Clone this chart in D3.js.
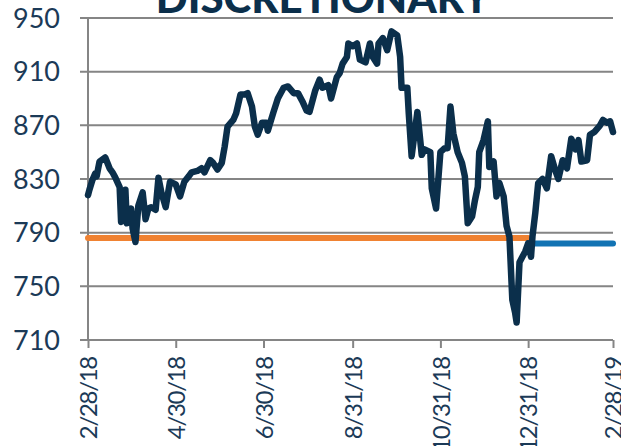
<!DOCTYPE html>
<html>
<head>
<meta charset="utf-8">
<script src="https://cdn.jsdelivr.net/npm/d3@7"></script>
<style>
  body { margin: 0; background: #fff; }
  svg { display: block; }
  text { font-family: Lato, "Noto Sans", sans-serif; fill: #1b3a57; }
</style>
</head>
<body>
<svg width="621" height="446"></svg>
<script>
// Chart data
var title = "DISCRETIONARY";

var dates = [
  "2018-02-28","2018-03-01","2018-03-03","2018-03-05","2018-03-06","2018-03-08","2018-03-12","2018-03-15",
  "2018-03-17","2018-03-19","2018-03-22","2018-03-23","2018-03-26","2018-03-27","2018-03-30","2018-03-31",
  "2018-04-02","2018-04-04","2018-04-07","2018-04-09","2018-04-11","2018-04-13","2018-04-16","2018-04-18",
  "2018-04-20","2018-04-23","2018-04-26","2018-04-30","2018-05-03","2018-05-06","2018-05-09","2018-05-11",
  "2018-05-15","2018-05-18","2018-05-20","2018-05-24","2018-05-26","2018-05-29","2018-06-01","2018-06-03",
  "2018-06-05","2018-06-09","2018-06-11","2018-06-14","2018-06-17","2018-06-19","2018-06-22","2018-06-24",
  "2018-06-26","2018-06-29","2018-07-02","2018-07-03","2018-07-07","2018-07-10","2018-07-14","2018-07-17",
  "2018-07-21","2018-07-24","2018-07-27","2018-07-30","2018-08-01","2018-08-05","2018-08-08","2018-08-10",
  "2018-08-14","2018-08-16","2018-08-20","2018-08-22","2018-08-24","2018-08-27","2018-08-28","2018-08-31",
  "2018-09-03","2018-09-05","2018-09-09","2018-09-12","2018-09-14","2018-09-17","2018-09-18","2018-09-21",
  "2018-09-24","2018-09-27","2018-10-01","2018-10-03","2018-10-04","2018-10-08","2018-10-09","2018-10-11",
  "2018-10-15","2018-10-18","2018-10-20","2018-10-24","2018-10-25","2018-10-28","2018-10-31","2018-11-03",
  "2018-11-05","2018-11-07","2018-11-09","2018-11-12","2018-11-15","2018-11-17","2018-11-19","2018-11-22",
  "2018-11-24","2018-11-26","2018-11-27","2018-11-30","2018-12-03","2018-12-04","2018-12-07","2018-12-09",
  "2018-12-11","2018-12-14","2018-12-16","2018-12-18","2018-12-20","2018-12-22","2018-12-23","2018-12-25",
  "2018-12-29","2018-12-31","2019-01-02","2019-01-03","2019-01-05","2019-01-07","2019-01-10","2019-01-13",
  "2019-01-16","2019-01-19","2019-01-21","2019-01-24","2019-01-27","2019-01-30","2019-02-02","2019-02-04",
  "2019-02-06","2019-02-10","2019-02-12","2019-02-15","2019-02-19","2019-02-21","2019-02-24","2019-02-26",
  "2019-02-28"
];

var prices = [
  818,822,829,834,832,843,846,838,
  835,831,824,798,822,797,808,793,
  783,810,820,800,808,809,807,831,
  820,809,828,826,817,828,832,835,
  836,838,835,844,842,837,842,854,
  869,874,879,893,893,894,884,869,
  863,872,872,866,880,890,898,899,
  894,894,888,881,880,896,904,898,
  900,890,906,909,916,921,931,929,
  931,919,917,931,921,916,931,935,
  926,940,937,921,898,898,879,847,
  880,848,852,850,823,808,850,853,
  853,884,864,850,842,832,797,802,
  814,824,850,859,873,839,843,817,
  827,817,795,787,740,730,723,768,
  776,782,772,787,805,827,830,823,
  847,836,830,844,838,860,852,859,
  843,844,863,865,870,874,872,873,
  865
];

// horizontal reference levels
var orangeLevel = { from: "2018-02-28", to: "2018-12-31", value: 786 };
var blueLevel = { from: "2018-12-31", to: "2019-02-28", value: 782 };

var yTicks = [710, 750, 790, 830, 870, 910, 950];
var xTicks = ["2018-02-28","2018-04-30","2018-06-30","2018-08-31","2018-10-31","2018-12-31","2019-02-28"];
var xTickLabels = ["2/28/18","4/30/18","6/30/18","8/31/18","10/31/18","12/31/18","2/28/19"];

var parse = d3.timeParse("%Y-%m-%d");
var series = dates.map(function(d, i) { return { date: parse(d), value: prices[i] }; });

var svg = d3.select("svg");
var plotLeft = 88, plotRight = 613, plotTop = 18, plotBottom = 340;

var x = d3.scaleTime()
  .domain([parse(xTicks[0]), parse(xTicks[xTicks.length - 1])])
  .range([plotLeft, plotRight]);

var y = d3.scaleLinear()
  .domain([710, 950])
  .range([plotBottom, plotTop]);

// gridlines
svg.append("g")
  .selectAll("line")
  .data(yTicks)
  .enter().append("line")
    .attr("x1", plotLeft - 8)
    .attr("x2", plotRight)
    .attr("y1", function(d) { return y(d); })
    .attr("y2", function(d) { return y(d); })
    .style("stroke", "#858585")
    .style("stroke-width", 2);

// y axis line
svg.append("line")
  .attr("x1", plotLeft).attr("x2", plotLeft)
  .attr("y1", plotTop).attr("y2", plotBottom)
  .style("stroke", "#858585")
  .style("stroke-width", 2);

// y labels
svg.append("g")
  .selectAll("text")
  .data(yTicks)
  .enter().append("text")
    .attr("x", plotLeft - 28)
    .attr("y", function(d) { return y(d); })
    .attr("dy", "0.36em")
    .attr("text-anchor", "end")
    .style("font-size", "27px")
    .text(function(d) { return d; });

// x axis ticks and labels
var xg = svg.append("g").attr("transform", "translate(0," + plotBottom + ")");
xg.call(d3.axisBottom(x)
  .tickValues(xTicks.map(parse))
  .tickSize(8)
  .tickFormat(function(d, i) { return xTickLabels[i]; }));
xg.select(".domain").remove();
xg.selectAll(".tick line").style("stroke", "#858585").style("stroke-width", 2);
xg.selectAll(".tick text")
  .attr("transform", "rotate(-90)")
  .attr("text-anchor", "end")
  .attr("x", -17)
  .attr("y", 0)
  .attr("dy", "0.36em")
  .style("font-family", "Lato, sans-serif")
  .style("font-size", "24px")
  .style("letter-spacing", "-1.3px")
  .style("fill", "#1b3a57");

// reference levels
[[orangeLevel, "#f08232"], [blueLevel, "#1273b3"]].forEach(function(p) {
  svg.append("line")
    .attr("x1", x(parse(p[0].from)))
    .attr("x2", x(parse(p[0].to)))
    .attr("y1", y(p[0].value))
    .attr("y2", y(p[0].value))
    .style("stroke", p[1])
    .style("stroke-width", 6)
    .style("stroke-linecap", "round");
});

// price line
var line = d3.line()
  .x(function(d) { return x(d.date); })
  .y(function(d) { return y(d.value); });

svg.append("path")
  .datum(series)
  .attr("d", line)
  .style("fill", "none")
  .style("stroke", "#0b2f4b")
  .style("stroke-width", 6.5)
  .style("stroke-linejoin", "round")
  .style("stroke-linecap", "round");

// title (cut off at the top)
svg.append("text")
  .attr("x", 323)
  .attr("y", 13)
  .attr("text-anchor", "middle")
  .style("font-size", "42px")
  .style("font-weight", 900)
  .style("fill", "#0b2f4b")
  .text(title);
</script>
</body>
</html>
